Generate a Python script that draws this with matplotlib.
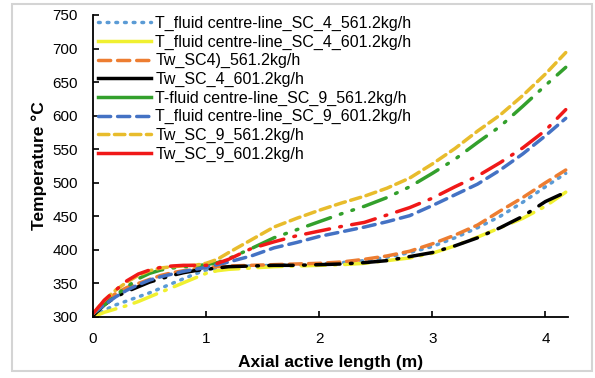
import numpy as np
import matplotlib
matplotlib.use("Agg")
import matplotlib.pyplot as plt
from matplotlib.lines import Line2D
from matplotlib.patches import Rectangle

plt.rcParams['font.family'] = ['Liberation Sans', 'DejaVu Sans']

# axial positions (m)
x = [0, 0.1, 0.2, 0.3, 0.4, 0.5, 0.6, 0.7, 0.8, 0.9, 1.0, 1.1, 1.2, 1.4, 1.6, 1.8,
     2.0, 2.2, 2.4, 2.6, 2.8, 3.0, 3.2, 3.4, 3.6, 3.8, 4.0, 4.18]

tf_sc4_561 = [300, 310, 318, 324, 330, 336, 343, 350, 357, 364, 370, 373, 375, 376, 377, 378,
              379, 381, 384, 389, 396, 405, 418, 433, 450, 471, 494, 514]
tf_sc4_601 = [300, 307, 312, 317, 323, 330, 337, 344, 351, 358, 365, 369, 371, 373, 375, 376,
              377, 378, 380, 384, 388, 395, 406, 419, 433, 447, 465, 486]
tw_sc4_561 = [302, 322, 335, 344, 350, 356, 362, 366, 369, 372, 374, 375, 376, 377, 378, 379,
              380, 382, 386, 391, 398, 409, 422, 437, 458, 478, 500, 519]
tw_sc4_601 = [302, 318, 330, 338, 345, 352, 357, 362, 366, 369, 371, 373, 375, 376, 377, 377,
              378, 379, 381, 384, 390, 396, 406, 418, 433, 450, 472, 486]
tf_sc9_561 = [305, 318, 332, 345, 357, 365, 370, 373, 375, 376, 378, 381, 387, 402, 418, 430,
              442, 454, 465, 478, 494, 514, 535, 560, 584, 614, 645, 672]
tf_sc9_601 = [305, 318, 330, 340, 348, 355, 360, 364, 368, 371, 374, 378, 382, 391, 403, 411,
              420, 427, 434, 442, 451, 466, 482, 498, 519, 543, 570, 596]
tw_sc9_561 = [305, 325, 340, 352, 362, 369, 373, 375, 376, 377, 380, 386, 396, 415, 434, 447,
              459, 470, 480, 492, 507, 528, 551, 577, 601, 630, 662, 694]
tw_sc9_601 = [305, 325, 340, 354, 364, 370, 374, 376, 377, 377, 377, 380, 386, 402, 412, 421,
              428, 435, 441, 452, 463, 477, 494, 510, 530, 552, 578, 609]

labels = ["T_fluid centre-line_SC_4_561.2kg/h", "T_fluid centre-line_SC_4_601.2kg/h",
          "Tw_SC4)_561.2kg/h", "Tw_SC_4_601.2kg/h",
          "T-fluid centre-line_SC_9_561.2kg/h", "T_fluid centre-line_SC_9_601.2kg/h",
          "Tw_SC_9_561.2kg/h", "Tw_SC_9_601.2kg/h"]
series = [tf_sc4_561, tf_sc4_601, tw_sc4_561, tw_sc4_601,
          tf_sc9_561, tf_sc9_601, tw_sc9_561, tw_sc9_601]
colors = ["#5B9BD5", "#F0F030", "#ED7D31", "#000000",
          "#33A02C", "#4472C4", "#E8BC2C", "#F01818"]
plot_styles = [(0, (0.5, 2)), (0, (7, 2.5, 0.5, 2.5)), (0, (3.5, 2)), (0, (7, 3, 0.5, 3)),
               (0, (7, 3, 0.5, 3, 0.5, 3)), (0, (3.5, 2)), (0, (3, 1.6)), (0, (7, 3, 0.5, 3))]
legend_styles = [(0, (0.5, 2)), '-', (0, (3.5, 2)), '-', '-', (0, (3.5, 2)), (0, (3, 1.6)), '-']

fig = plt.figure(figsize=(5.95, 3.78), dpi=100)
ax = fig.add_axes([93 / 595, 1 - 317 / 378, 475 / 595, 302 / 378])

for ys, c, ls in zip(series, colors, plot_styles):
    ax.plot(x, ys, color=c, lw=2.5, linestyle=ls, dash_capstyle='round',
            solid_capstyle='round')

handles = [Line2D([], [], color=c, lw=2.5, linestyle=ls, dash_capstyle='round')
           for c, ls in zip(colors, legend_styles)]
ax.legend(handles, labels, loc='upper left', bbox_to_anchor=(-0.003, 1.018),
          frameon=False, fontsize=11.5, handlelength=3.3, handletextpad=0.3,
          labelspacing=0.22, borderaxespad=0)

ax.set_xlim(0, 4.2)
ax.set_ylim(300, 750)
ax.set_xticks([0, 1, 2, 3, 4])
ax.set_yticks(np.arange(300, 751, 50))
ax.tick_params(direction='in', length=4, width=1.2, labelsize=11, pad=11)
for s in ['top', 'right']:
    ax.spines[s].set_visible(False)
for s in ['left', 'bottom']:
    ax.spines[s].set_linewidth(1.3)

ax.set_xlabel("Axial active length (m)", fontsize=12.5, fontweight='bold', labelpad=6)
ax.set_ylabel("Temperature \u00b0C", fontsize=12.5, fontweight='bold', labelpad=4)

fig.patches.append(Rectangle((12 / 595, 1 - 371 / 378), 580 / 595, 367 / 378,
                             transform=fig.transFigure, fill=False,
                             edgecolor='#d4d4d4', lw=1.5))

fig.savefig("out.png", dpi=100)
